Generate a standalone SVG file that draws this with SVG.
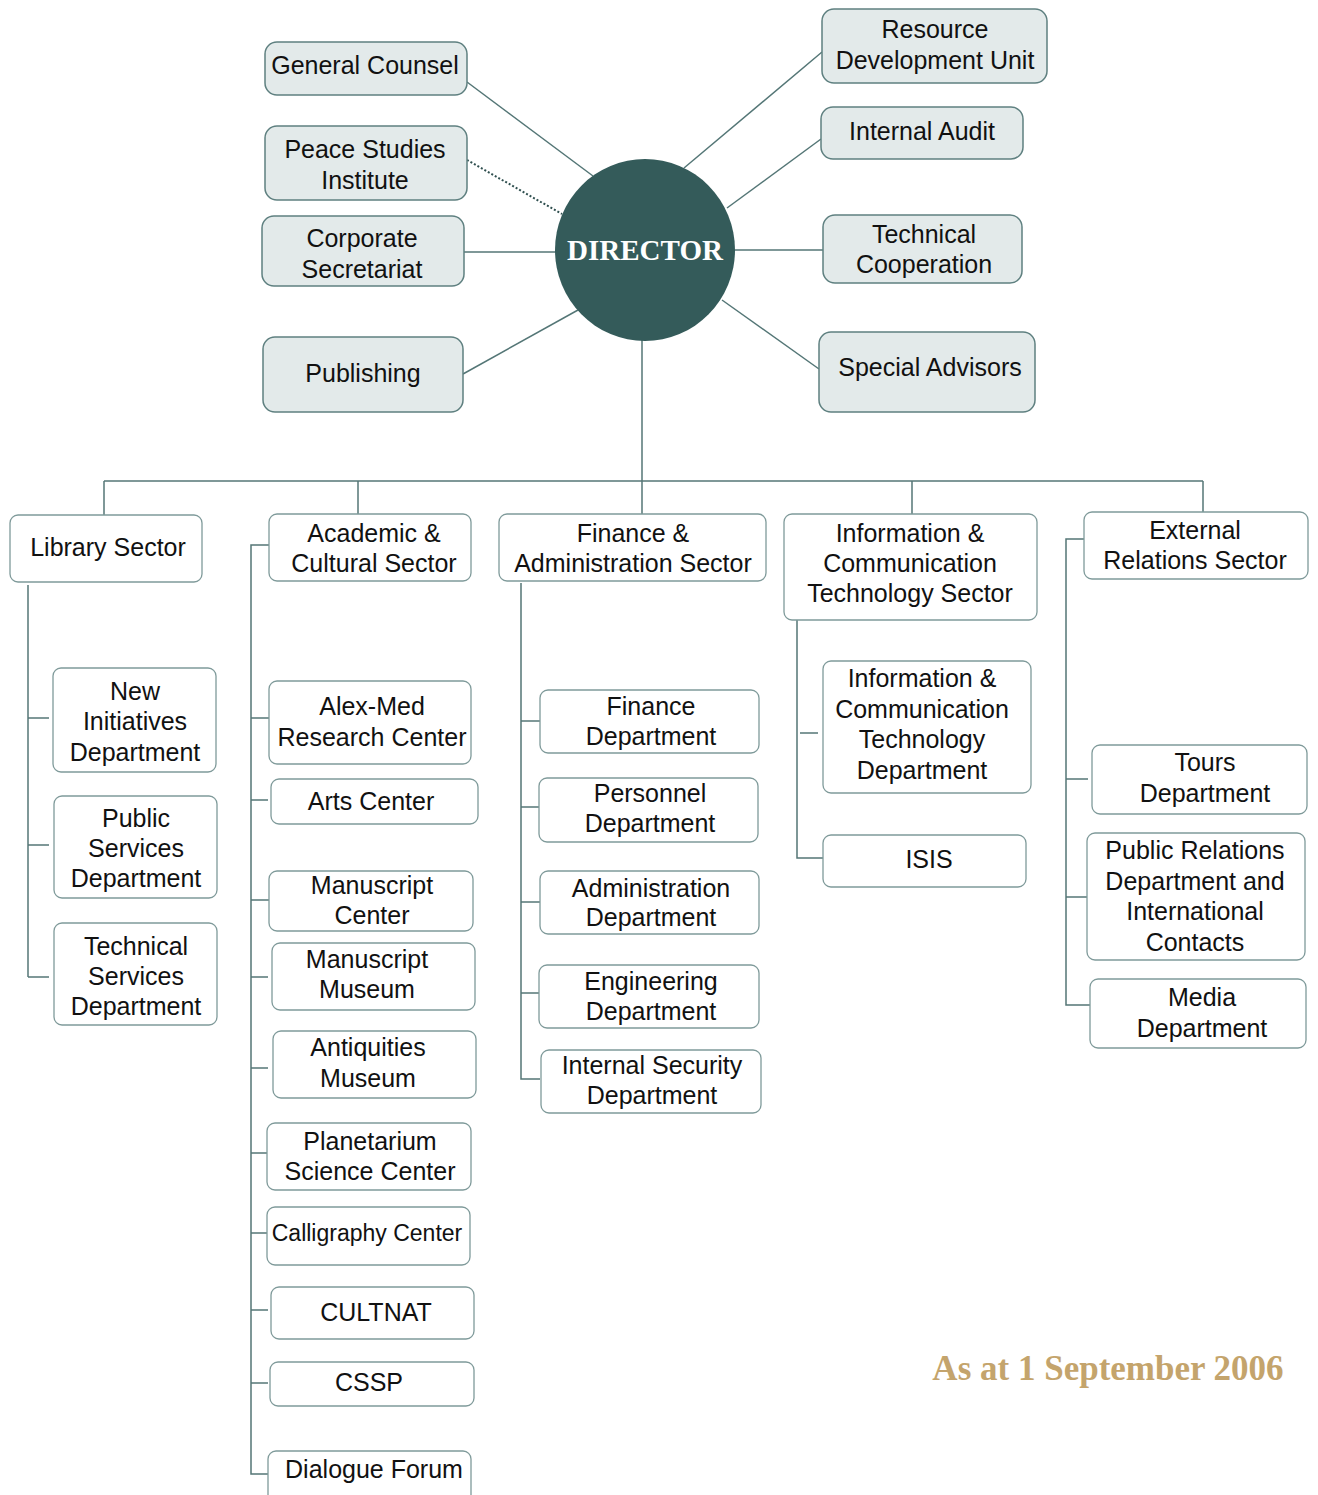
<svg xmlns="http://www.w3.org/2000/svg" width="1318" height="1495" viewBox="0 0 1318 1495">
<style>
.t{font-family:"Liberation Sans",Arial,sans-serif;font-size:25px;fill:#111;text-anchor:middle}
.top rect{fill:#e3eaea;stroke:#5f8080;stroke-width:1.5}
.box rect{fill:#fff;stroke:#7f9a9a;stroke-width:1.3}
.c line,.c path{stroke:#547676;stroke-width:1.5;fill:none}
</style>
<rect width="1318" height="1495" fill="#fff"/>
<g class="c" id="connectors">
<line x1="467" y1="82" x2="593" y2="176"/>
<line x1="467" y1="160" x2="562" y2="214" stroke-dasharray="2 2" style="stroke:#2f4f4f;stroke-width:2"/>
<line x1="464" y1="252" x2="555" y2="252"/>
<line x1="463" y1="374" x2="578" y2="310"/>
<line x1="822" y1="52" x2="684" y2="168"/>
<line x1="821" y1="139" x2="727" y2="208"/>
<line x1="735" y1="250" x2="823" y2="250"/>
<line x1="819" y1="369" x2="722" y2="300"/>
<line x1="642" y1="340" x2="642" y2="481"/>
<line x1="104" y1="481" x2="1203" y2="481"/>
<line x1="104" y1="481" x2="104" y2="515"/>
<line x1="358" y1="481" x2="358" y2="514"/>
<line x1="642" y1="481" x2="642" y2="514"/>
<line x1="912" y1="481" x2="912" y2="514"/>
<line x1="1203" y1="481" x2="1203" y2="512"/>
<line x1="28" y1="585" x2="28" y2="977"/>
<line x1="28" y1="718" x2="49" y2="718"/>
<line x1="28" y1="845" x2="49" y2="845"/>
<line x1="28" y1="977" x2="49" y2="977"/>
<path d="M269 545 H251 V1474 H268"/>
<line x1="251" y1="718" x2="269" y2="718"/>
<line x1="251" y1="800" x2="268" y2="800"/>
<line x1="251" y1="900" x2="270" y2="900"/>
<line x1="251" y1="977" x2="268" y2="977"/>
<line x1="251" y1="1068" x2="268" y2="1068"/>
<line x1="251" y1="1153" x2="267" y2="1153"/>
<line x1="251" y1="1233" x2="267" y2="1233"/>
<line x1="251" y1="1310" x2="268" y2="1310"/>
<line x1="251" y1="1383" x2="268" y2="1383"/>
<path d="M521 583 V1079 H540"/>
<line x1="521" y1="721" x2="540" y2="721"/>
<line x1="521" y1="807" x2="539" y2="807"/>
<line x1="521" y1="902" x2="540" y2="902"/>
<line x1="521" y1="993" x2="539" y2="993"/>
<path d="M797 620 V858 H823"/>
<line x1="800" y1="733" x2="818" y2="733"/>
<path d="M1084 539 H1066 V1005 H1090"/>
<line x1="1066" y1="779" x2="1088" y2="779"/>
<line x1="1066" y1="897" x2="1087" y2="897"/>
</g>
<g id="director">
<ellipse cx="645" cy="250" rx="90" ry="91" fill="#345b5a"/>
<text x="645" y="260" style="font-family:'Liberation Serif','Times New Roman',serif;font-weight:bold;font-size:29px;fill:#fff;text-anchor:middle">DIRECTOR</text>
</g>
<g class="top">
<g id="general-counsel"><rect x="265" y="42" width="202" height="53" rx="12"/><text class="t" x="365" y="74">General Counsel</text></g>
<g id="peace-studies"><rect x="265" y="126" width="202" height="74" rx="12"/><text class="t" x="365" y="158">Peace Studies</text><text class="t" x="365" y="189">Institute</text></g>
<g id="corporate-secretariat"><rect x="262" y="216" width="202" height="70" rx="12"/><text class="t" x="362" y="247">Corporate</text><text class="t" x="362" y="278">Secretariat</text></g>
<g id="publishing"><rect x="263" y="337" width="200" height="75" rx="12"/><text class="t" x="363" y="382">Publishing</text></g>
<g id="resource-development"><rect x="822" y="9" width="225" height="74" rx="12"/><text class="t" x="935" y="38">Resource</text><text class="t" x="935" y="69">Development Unit</text></g>
<g id="internal-audit"><rect x="821" y="107" width="202" height="52" rx="12"/><text class="t" x="922" y="140">Internal Audit</text></g>
<g id="technical-cooperation"><rect x="823" y="215" width="199" height="68" rx="12"/><text class="t" x="924" y="243">Technical</text><text class="t" x="924" y="273">Cooperation</text></g>
<g id="special-advisors"><rect x="819" y="332" width="216" height="80" rx="12"/><text class="t" x="930" y="376">Special Advisors</text></g>
</g>
<g class="box">
<g id="library-sector"><rect x="10" y="515" width="192" height="67" rx="8"/><text class="t" x="108" y="556">Library Sector</text></g>
<g id="academic-sector"><rect x="269" y="514" width="202" height="67" rx="8"/><text class="t" x="374" y="542">Academic &amp;</text><text class="t" x="374" y="572">Cultural Sector</text></g>
<g id="finance-sector"><rect x="499" y="514" width="267" height="67" rx="8"/><text class="t" x="633" y="542">Finance &amp;</text><text class="t" x="633" y="572">Administration Sector</text></g>
<g id="ict-sector"><rect x="784" y="514" width="253" height="106" rx="8"/><text class="t" x="910" y="542">Information &amp;</text><text class="t" x="910" y="572">Communication</text><text class="t" x="910" y="602">Technology Sector</text></g>
<g id="external-sector"><rect x="1084" y="512" width="224" height="67" rx="8"/><text class="t" x="1195" y="539">External</text><text class="t" x="1195" y="569">Relations Sector</text></g>

<g id="new-initiatives"><rect x="53" y="668" width="163" height="104" rx="8"/><text class="t" x="135" y="700">New</text><text class="t" x="135" y="730">Initiatives</text><text class="t" x="135" y="761">Department</text></g>
<g id="public-services"><rect x="54" y="796" width="163" height="102" rx="8"/><text class="t" x="136" y="827">Public</text><text class="t" x="136" y="857">Services</text><text class="t" x="136" y="887">Department</text></g>
<g id="technical-services"><rect x="54" y="923" width="163" height="102" rx="8"/><text class="t" x="136" y="955">Technical</text><text class="t" x="136" y="985">Services</text><text class="t" x="136" y="1015">Department</text></g>

<g id="alex-med"><rect x="269" y="681" width="202" height="83" rx="8"/><text class="t" x="372" y="715">Alex-Med</text><text class="t" x="372" y="746">Research Center</text></g>
<g id="arts-center"><rect x="271" y="779" width="207" height="45" rx="8"/><text class="t" x="371" y="810">Arts Center</text></g>
<g id="manuscript-center"><rect x="269" y="871" width="204" height="60" rx="8"/><text class="t" x="372" y="894">Manuscript</text><text class="t" x="372" y="924">Center</text></g>
<g id="manuscript-museum"><rect x="272" y="943" width="203" height="67" rx="8"/><text class="t" x="367" y="968">Manuscript</text><text class="t" x="367" y="998">Museum</text></g>
<g id="antiquities-museum"><rect x="273" y="1031" width="203" height="67" rx="8"/><text class="t" x="368" y="1056">Antiquities</text><text class="t" x="368" y="1087">Museum</text></g>
<g id="planetarium"><rect x="267" y="1123" width="204" height="67" rx="8"/><text class="t" x="370" y="1150">Planetarium</text><text class="t" x="370" y="1180">Science Center</text></g>
<g id="calligraphy"><rect x="267" y="1207" width="203" height="58" rx="8"/><text class="t" x="367" y="1241" style="font-size:23px">Calligraphy Center</text></g>
<g id="cultnat"><rect x="271" y="1287" width="203" height="52" rx="8"/><text class="t" x="376" y="1321">CULTNAT</text></g>
<g id="cssp"><rect x="270" y="1362" width="204" height="44" rx="8"/><text class="t" x="369" y="1391">CSSP</text></g>
<g id="dialogue-forum"><rect x="268" y="1451" width="203" height="60" rx="8"/><text class="t" x="374" y="1478">Dialogue Forum</text></g>

<g id="finance-dept"><rect x="540" y="690" width="219" height="63" rx="8"/><text class="t" x="651" y="715">Finance</text><text class="t" x="651" y="745">Department</text></g>
<g id="personnel-dept"><rect x="539" y="778" width="219" height="64" rx="8"/><text class="t" x="650" y="802">Personnel</text><text class="t" x="650" y="832">Department</text></g>
<g id="administration-dept"><rect x="540" y="871" width="219" height="63" rx="8"/><text class="t" x="651" y="897">Administration</text><text class="t" x="651" y="926">Department</text></g>
<g id="engineering-dept"><rect x="539" y="965" width="220" height="63" rx="8"/><text class="t" x="651" y="990">Engineering</text><text class="t" x="651" y="1020">Department</text></g>
<g id="internal-security"><rect x="541" y="1050" width="220" height="63" rx="8"/><text class="t" x="652" y="1074">Internal Security</text><text class="t" x="652" y="1104">Department</text></g>

<g id="ict-dept"><rect x="823" y="661" width="208" height="132" rx="8"/><text class="t" x="922" y="687">Information &amp;</text><text class="t" x="922" y="718">Communication</text><text class="t" x="922" y="748">Technology</text><text class="t" x="922" y="779">Department</text></g>
<g id="isis"><rect x="823" y="835" width="203" height="52" rx="8"/><text class="t" x="929" y="868">ISIS</text></g>

<g id="tours-dept"><rect x="1092" y="745" width="215" height="69" rx="8"/><text class="t" x="1205" y="771">Tours</text><text class="t" x="1205" y="802">Department</text></g>
<g id="public-relations"><rect x="1087" y="833" width="218" height="127" rx="8"/><text class="t" x="1195" y="859">Public Relations</text><text class="t" x="1195" y="890">Department and</text><text class="t" x="1195" y="920">International</text><text class="t" x="1195" y="951">Contacts</text></g>
<g id="media-dept"><rect x="1090" y="979" width="216" height="69" rx="8"/><text class="t" x="1202" y="1006">Media</text><text class="t" x="1202" y="1037">Department</text></g>
</g>
<text x="1108" y="1380" style="font-family:'Liberation Serif','Times New Roman',serif;font-weight:bold;font-size:35px;fill:#c4a46c;text-anchor:middle">As at 1 September 2006</text>
</svg>
